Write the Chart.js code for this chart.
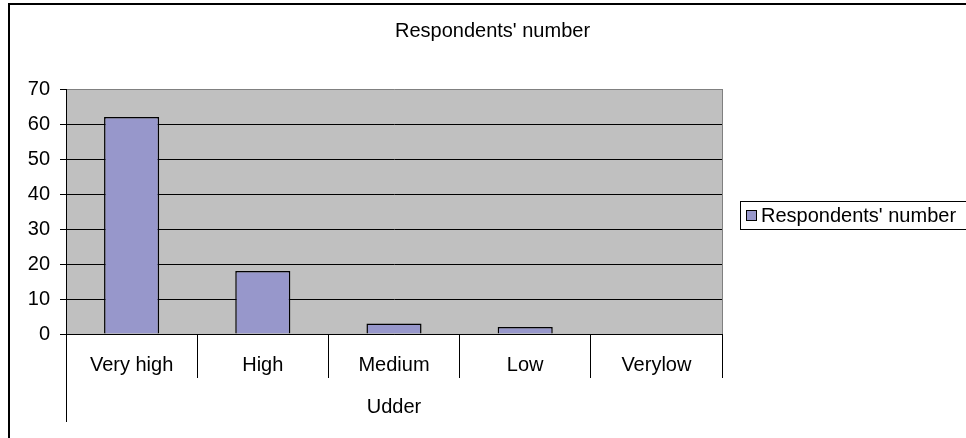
<!DOCTYPE html>
<html>
<head>
<meta charset="utf-8">
<script src="https://cdn.jsdelivr.net/npm/chart.js@4.4.0/dist/chart.umd.min.js"></script>
<style>
 body{margin:0;background:#fff;}
 canvas{display:block;}
</style>
</head>
<body>
<canvas id="popChart" width="966" height="438"></canvas>
<script>
// data
var categories = ['Very high', 'High', 'Medium', 'Low', 'Verylow'];
var groupLabel = 'Udder';
var seriesName = "Respondents' number";
var values = [62, 18, 3, 2, 0];
var yTicks = [0, 10, 20, 30, 40, 50, 60, 70];

var barColor = '#9797CB';
var fontFamily = "'Liberation Sans', Arial, sans-serif";
var fontSize = 20;

Chart.defaults.font.family = fontFamily;
Chart.defaults.font.size = fontSize;
Chart.defaults.color = '#000';

// frame, gray plot area, title, legend - the excel looking bits
var excelBits = {
  id: 'excelBits',
  beforeDraw: function (chart) {
    var ctx = chart.ctx, a = chart.chartArea;
    ctx.save();
    ctx.fillStyle = '#fff';
    ctx.fillRect(0, 0, chart.width, chart.height);
    ctx.fillStyle = '#C0C0C0';
    ctx.fillRect(a.left, a.top, a.right - a.left, a.bottom - a.top);
    ctx.restore();
  },
  afterDraw: function (chart) {
    var ctx = chart.ctx, a = chart.chartArea;
    ctx.save();
    // outer frame (top + left only are visible)
    ctx.fillStyle = '#000';
    ctx.fillRect(8, 3, chart.width - 8, 2);
    ctx.fillRect(8, 3, 2, chart.height - 3);

    // plot border right side
    ctx.strokeStyle = '#808080';
    ctx.lineWidth = 1;
    ctx.beginPath();
    ctx.moveTo(a.right + 0.5, a.top);
    ctx.lineTo(a.right + 0.5, a.bottom);
    ctx.stroke();

    // y axis line runs down through the group label
    ctx.strokeStyle = '#000';
    ctx.beginPath();
    ctx.moveTo(a.left + 0.5, a.bottom);
    ctx.lineTo(a.left + 0.5, 422);
    ctx.stroke();

    // title
    ctx.fillStyle = '#000';
    ctx.font = fontSize + 'px ' + fontFamily;
    ctx.textBaseline = 'middle';
    ctx.textAlign = 'left';
    ctx.fillText(seriesName, 395, 31);

    // legend box
    ctx.strokeStyle = '#000';
    ctx.strokeRect(740.5, 201.5, 260, 28);
    ctx.fillStyle = barColor;
    ctx.fillRect(746, 210, 10, 10);
    ctx.strokeRect(746.5, 210.5, 10, 10);
    ctx.fillStyle = '#000';
    ctx.fillText(chart.data.datasets[0].label, 761, 216);
    ctx.restore();
  }
};

var ctx = document.getElementById('popChart').getContext('2d');

var popChart = new Chart(ctx, {
  type: 'bar',
  data: {
    labels: categories,
    datasets: [{
      label: seriesName,
      data: values,
      backgroundColor: barColor,
      borderColor: '#000',
      borderWidth: 1.5,
      barPercentage: 0.42,
      categoryPercentage: 1
    }]
  },
  options: {
    responsive: false,
    animation: false,
    layout: { padding: { left: 10, top: 89, right: 244, bottom: 4 } },
    plugins: {
      legend: { display: false },
      title: { display: false },
      tooltip: { enabled: false }
    },
    scales: {
      x: {
        grid: {
          offset: true,
          drawOnChartArea: false,
          drawTicks: true,
          tickLength: 44,
          color: '#000',
          lineWidth: 1
        },
        border: { display: true, color: '#000', width: 1 },
        ticks: { padding: -25, color: '#000', maxRotation: 0 },
        title: {
          display: true,
          text: groupLabel,
          color: '#000',
          padding: { top: 4, bottom: 15 }
        },
        afterFit: function (scale) {
          scale.height = 100;
          scale.paddingLeft = 0;
          scale.paddingRight = 0;
        }
      },
      y: {
        min: 0,
        max: 70,
        afterBuildTicks: function (scale) {
          scale.ticks = yTicks.map(function (v) { return { value: v }; });
        },
        grid: {
          color: function (c) {
            return c.tick && c.tick.value === 70 ? '#808080' : '#000';
          },
          tickColor: '#000',
          lineWidth: 1,
          drawTicks: true,
          tickLength: 6
        },
        border: { display: true, color: '#000', width: 1 },
        ticks: { padding: 10, color: '#000' },
        afterFit: function (scale) {
          scale.width = 56;
          scale.paddingTop = 0;
          scale.paddingBottom = 0;
        }
      }
    }
  },
  plugins: [excelBits]
});
</script>
</body>
</html>
